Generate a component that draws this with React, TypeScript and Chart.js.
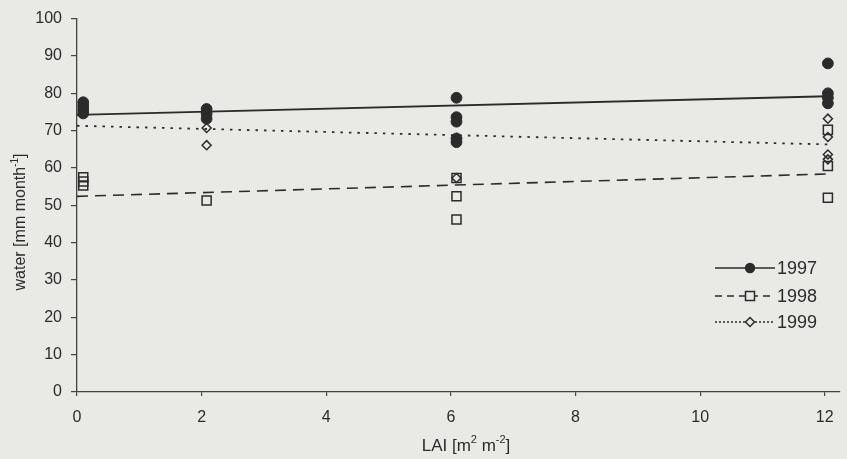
import React, { useEffect, useRef } from 'react';
import { Chart, registerables } from 'chart.js';

Chart.register(...registerables);

// ---- data ----
const xTickValues = [0, 2, 4, 6, 8, 10, 12];
const yTickValues = [0, 10, 20, 30, 40, 50, 60, 70, 80, 90, 100];

const lai1997 = [0.1, 0.1, 0.1, 0.1, 2.08, 2.08, 2.08, 6.09, 6.09, 6.09, 6.09, 6.09, 12.05, 12.05, 12.05, 12.05];
const water1997 = [77.6, 76.6, 75.6, 74.6, 75.8, 74.5, 73.2, 78.8, 73.6, 72.4, 67.9, 66.9, 88.0, 80.0, 78.8, 77.3];

const lai1998 = [0.1, 0.1, 0.1, 2.08, 6.09, 6.09, 6.09, 12.05, 12.05, 12.05];
const water1998 = [57.5, 56.4, 55.3, 51.3, 57.3, 52.4, 46.2, 70.2, 60.5, 52.0];

const lai1999 = [2.08, 2.08, 6.09, 6.09, 12.05, 12.05, 12.05, 12.05];
const water1999 = [70.7, 66.1, 68.0, 57.3, 73.2, 68.3, 63.6, 62.3];

// fitted trend lines (end points)
const trendLai = [0, 12.05];
const trend1997 = [74.2, 79.2];
const trend1998 = [52.4, 58.4];
const trend1999 = [71.3, 66.3];

const seriesNames = ['1997', '1998', '1999'];

const BG = '#e9e9e6';
const INK = '#2b2b2b';
const FONT = "'Liberation Sans', Arial, sans-serif";

const pts = (xs: number[], ys: number[]) => xs.map((x, i) => ({ x, y: ys[i] }));

function drawRich(ctx: CanvasRenderingContext2D, parts: [string, boolean][], cx: number, cy: number, size: number) {
  const supSize = Math.round(size * 0.65);
  let total = 0;
  const widths = parts.map(([t, sup]) => {
    ctx.font = `${sup ? supSize : size}px ${FONT}`;
    const w = ctx.measureText(t).width;
    total += w;
    return w;
  });
  let x = cx - total / 2;
  ctx.textBaseline = 'middle';
  ctx.textAlign = 'left';
  parts.forEach(([t, sup], i) => {
    ctx.font = `${sup ? supSize : size}px ${FONT}`;
    ctx.fillText(t, x, sup ? cy - size * 0.38 : cy);
    x += widths[i];
  });
}

const decorPlugin = {
  id: 'decor',
  afterDraw(chart: any) {
    const ctx: CanvasRenderingContext2D = chart.ctx;
    ctx.save();
    ctx.fillStyle = INK;
    // x title
    drawRich(ctx, [['LAI [m', false], ['2', true], [' m', false], ['-2', true], [']', false]], 466, 446, 17);
    // y title
    ctx.save();
    ctx.translate(21, 222);
    ctx.rotate(-Math.PI / 2);
    drawRich(ctx, [['water [mm month', false], ['-1', true], [']', false]], 0, 0, 16);
    ctx.restore();

    // legend
    const rows = [268, 296, 322];
    const x0 = 715, x1 = 775, mx = 750;
    rows.forEach((y, i) => {
      ctx.save();
      ctx.strokeStyle = INK;
      ctx.lineWidth = 1.6;
      if (i === 1) ctx.setLineDash([7, 5]);
      if (i === 2) ctx.setLineDash([2, 2]);
      ctx.beginPath();
      ctx.moveTo(x0, y);
      ctx.lineTo(x1, y);
      ctx.stroke();
      ctx.setLineDash([]);
      ctx.lineWidth = 1.5;
      if (i === 0) {
        ctx.fillStyle = INK;
        ctx.beginPath();
        ctx.arc(mx, y, 5.2, 0, Math.PI * 2);
        ctx.fill();
      } else if (i === 1) {
        ctx.fillStyle = BG;
        ctx.fillRect(mx - 4.5, y - 4.5, 9, 9);
        ctx.strokeRect(mx - 4.5, y - 4.5, 9, 9);
      } else {
        ctx.fillStyle = BG;
        ctx.beginPath();
        ctx.moveTo(mx - 4.5, y);
        ctx.lineTo(mx, y - 4.5);
        ctx.lineTo(mx + 4.5, y);
        ctx.lineTo(mx, y + 4.5);
        ctx.closePath();
        ctx.fill();
        ctx.stroke();
      }
      ctx.fillStyle = INK;
      ctx.font = `18px ${FONT}`;
      ctx.textAlign = 'left';
      ctx.textBaseline = 'middle';
      ctx.fillText(seriesNames[i], 777, y + 1);
      ctx.restore();
    });
    ctx.restore();
  },
};

export default function App() {
  const ref = useRef<HTMLCanvasElement>(null);

  useEffect(() => {
    if (!ref.current) return;
    const chart = new Chart(ref.current, {
      type: 'scatter',
      data: {
        datasets: [
          {
            type: 'scatter',
            label: seriesNames[0],
            data: pts(lai1997, water1997),
            pointStyle: 'circle',
            pointRadius: 5.4,
            backgroundColor: INK,
            borderColor: INK,
            borderWidth: 1,
            order: 0,
          },
          {
            type: 'scatter',
            label: seriesNames[1],
            data: pts(lai1998, water1998),
            pointStyle: 'rect',
            pointRadius: 6.4,
            backgroundColor: 'rgba(0,0,0,0)',
            borderColor: INK,
            borderWidth: 1.5,
            order: 1,
          },
          {
            type: 'scatter',
            label: seriesNames[2],
            data: pts(lai1999, water1999),
            pointStyle: 'rectRot',
            pointRadius: 4.5,
            backgroundColor: 'rgba(0,0,0,0)',
            borderColor: INK,
            borderWidth: 1.5,
            order: 2,
          },
          {
            type: 'line',
            label: 'trend 1997',
            data: pts(trendLai, trend1997),
            borderColor: INK,
            borderWidth: 1.8,
            pointRadius: 0,
            showLine: true,
            fill: false,
            order: 3,
          },
          {
            type: 'line',
            label: 'trend 1998',
            data: pts(trendLai, trend1998),
            borderColor: INK,
            borderWidth: 1.6,
            borderDash: [11, 7],
            pointRadius: 0,
            showLine: true,
            fill: false,
            order: 4,
          },
          {
            type: 'line',
            label: 'trend 1999',
            data: pts(trendLai, trend1999),
            borderColor: INK,
            borderWidth: 1.8,
            borderDash: [2.5, 6],
            pointRadius: 0,
            showLine: true,
            fill: false,
            order: 5,
          },
        ] as any,
      },
      options: {
        responsive: false,
        animation: false,
        layout: { padding: { left: 0, right: 7, top: 16, bottom: 0 } },
        plugins: {
          legend: { display: false },
          tooltip: { enabled: false },
          title: { display: false },
        },
        scales: {
          x: {
            type: 'linear',
            min: 0,
            max: 12.23,
            afterBuildTicks: (s: any) => {
              s.ticks = xTickValues.map((v) => ({ value: v }));
            },
            afterFit: (s: any) => {
              s.height = 67;
            },
            border: { display: true, color: '#444', width: 1.3 },
            grid: { display: true, drawOnChartArea: false, drawTicks: true, tickLength: 4, color: '#444', lineWidth: 1.2 },
            ticks: { color: INK, font: { family: FONT, size: 16 }, padding: 12, maxRotation: 0 },
          },
          y: {
            type: 'linear',
            min: 0,
            max: 100,
            afterBuildTicks: (s: any) => {
              s.ticks = yTickValues.map((v) => ({ value: v }));
            },
            afterFit: (s: any) => {
              s.width = 77;
            },
            border: { display: true, color: '#444', width: 1.3 },
            grid: { display: true, drawOnChartArea: false, drawTicks: true, tickLength: 6, color: '#444', lineWidth: 1.2 },
            ticks: { color: INK, font: { family: FONT, size: 16 }, padding: 9 },
          },
        },
      },
      plugins: [decorPlugin],
    });
    return () => chart.destroy();
  }, []);

  return (
    <div style={{ position: 'fixed', left: 0, top: 0, width: 847, height: 459, background: BG, overflow: 'hidden' }}>
      <canvas ref={ref} width={847} height={459} style={{ display: 'block' }} />
    </div>
  );
}
